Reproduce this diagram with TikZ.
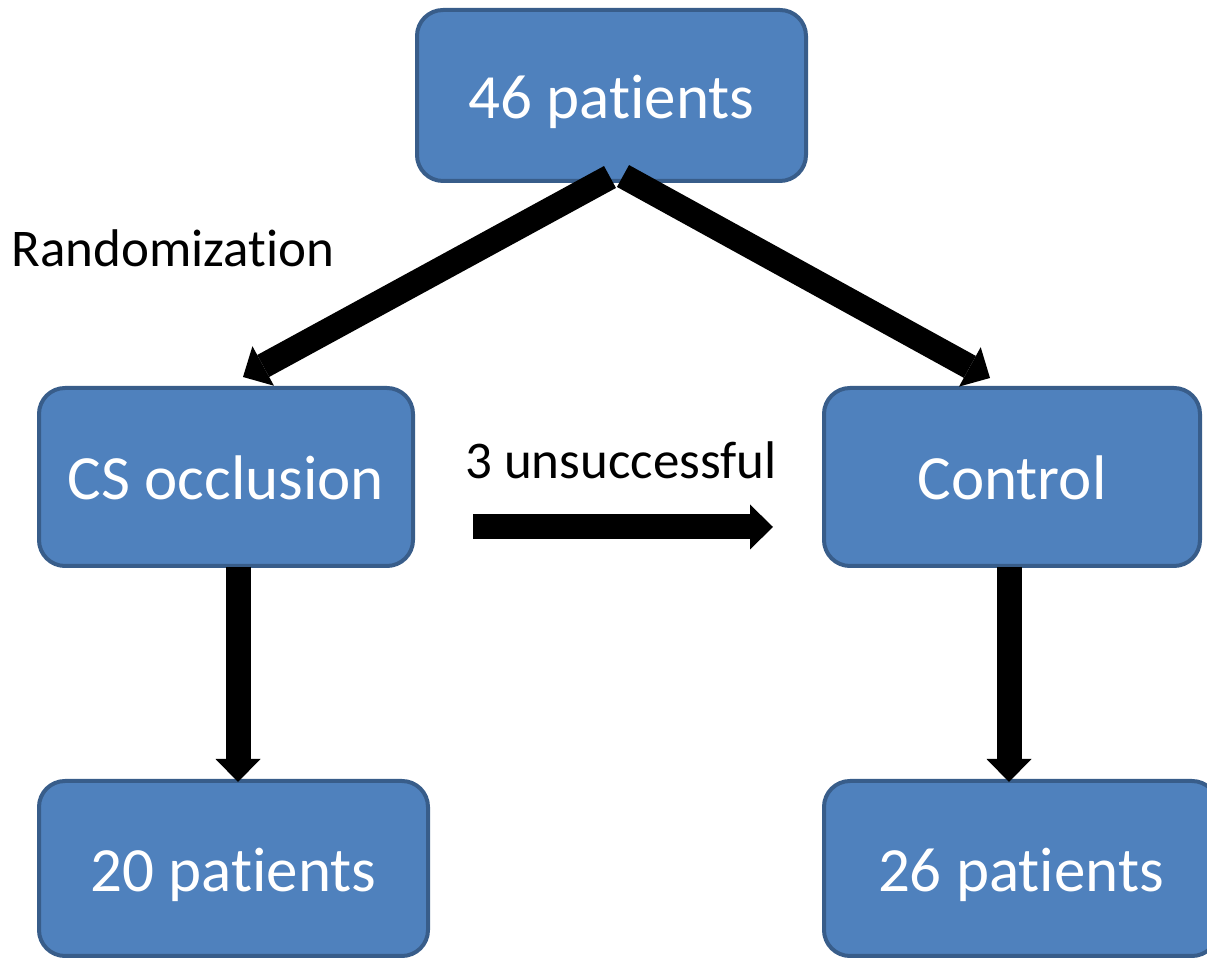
\documentclass[tikz,border=0pt]{standalone}
\usepackage{fontspec}
\setmainfont[RawFeature={-liga;-clig;-dlig;-calt}]{Carlito}
\usetikzlibrary{arrows.meta,calc}
\definecolor{boxfill}{HTML}{4F81BD}
\definecolor{boxline}{HTML}{385D8A}
\newcommand{\tinolig}{t\kern0pt i}
\tikzset{
  flowbox/.style={draw=boxline, fill=boxfill, line width=2pt, rounded corners=13pt,
    text=white, font=\fontsize{31.5}{36}\selectfont, inner sep=0pt,
    text height=23pt, text depth=0pt},
  plainlabel/.style={text=black, font=\fontsize{26.5}{32}\selectfont, inner sep=0pt},
  blockarrow/.style={line width=12.5pt, draw=black,
    -{Triangle[length=11.5pt,width=22.5pt,line width=0pt]}},
}
\begin{document}
\begin{tikzpicture}[x=0.5pt,y=-0.5pt]
\useasboundingbox (0,0) rectangle (1207,961);
% boxes
\node[flowbox, minimum width=194.5pt, minimum height=85.5pt] (top) at (611.5,95.5) {46 pa\tinolig ents};
\node[flowbox, minimum width=187pt, minimum height=89pt] (cs) at (226,477) {CS occlusion};
\node[flowbox, minimum width=188pt, minimum height=89pt] (ctrl) at (1012,477) {Control};
\node[flowbox, minimum width=194.5pt, minimum height=87.5pt] (p20) at (233.5,868.5) {20 pa\tinolig ents};
\node[flowbox, minimum width=197pt, minimum height=87.5pt] (p26) at (1021,868.5) {26 pa\tinolig ents};
% labels
\node[plainlabel] (rand) at (173,248) {Randomiza\tinolig on};
\node[plainlabel] (unsucc) at (621,460) {3 unsuccessful};
% connector end points
\coordinate (dlS) at ($(top.south)+(-1.5,-6)$);
\coordinate (dlE) at ($(cs.north)+(17,-9)$);
\coordinate (drS) at ($(top.south)+(11.5,-7)$);
\coordinate (drE) at ($(ctrl.north)+(-22,-8)$);
\coordinate (vlS) at ($(cs.south)+(12,-1)$);
\coordinate (vlE) at ($(p20.north)+(4.5,3)$);
\coordinate (vrS) at ($(ctrl.south)+(-3,-1)$);
\coordinate (vrE) at ($(p26.north)+(-12,3)$);
\coordinate (hS) at ($(cs.east)+(58,50)$);
\coordinate (hE) at ($(ctrl.west)+(-49,50)$);
% connectors
\draw[blockarrow] (dlS) -- (dlE);
\draw[blockarrow] (drS) -- (drE);
\draw[blockarrow] (vlS) -- (vlE);
\draw[blockarrow] (vrS) -- (vrE);
\draw[blockarrow] (hS) -- (hE);
\end{tikzpicture}
\end{document}
